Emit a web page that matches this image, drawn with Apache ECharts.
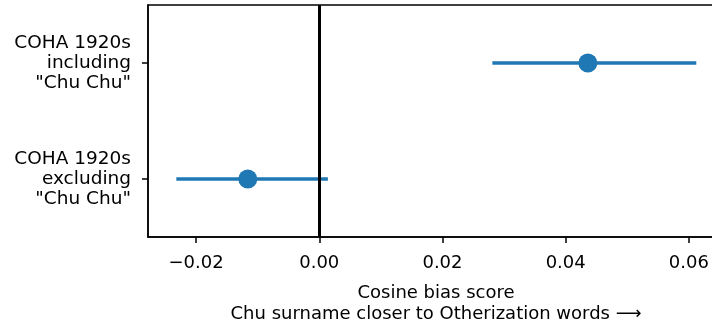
<!DOCTYPE html>
<html><head><meta charset="utf-8">
<script src="https://cdn.jsdelivr.net/npm/echarts@6/dist/echarts.min.js"></script>
<style>html,body{margin:0;padding:0;overflow:hidden;background:#fff}#c{width:740px;height:324px}</style>
</head><body><div id="c"></div>
<script>
const categories = ['COHA 1920s\nincluding\n"Chu Chu"', 'COHA 1920s\nexcluding\n"Chu Chu"'];
const means = [0.0436, -0.0116];
const lows = [0.0281, -0.0232];
const highs = [0.0612, 0.0014];
const xTicks = [-0.02, 0.00, 0.02, 0.04, 0.06];
const xName = 'Cosine bias score\nChu surname closer to Otherization words \u27F6';

const font = 'DejaVu Sans';
const chart = echarts.init(document.getElementById('c'), null, {renderer: 'canvas'});
chart.setOption({
  animation: false,
  grid: {left: 148, top: 5, width: 576, height: 232, show: true, borderColor: '#000', borderWidth: 1.5,
    backgroundColor: 'transparent', containLabel: false, outerBoundsMode: 'none'},
  xAxis: {
    type: 'value', min: -0.0278, max: 0.0657,
    splitLine: {show: false},
    axisLine: {show: true, onZero: false, lineStyle: {color: '#000', width: 1.5}},
    axisTick: {show: true, length: 6, lineStyle: {color: '#000', width: 1.5}, customValues: xTicks},
    axisLabel: {customValues: xTicks, color: '#000', fontFamily: font, fontSize: 18, margin: 17,
      formatter: v => v.toFixed(2).replace('-', '\u2212')},
    name: xName, nameLocation: 'middle', nameGap: 46,
    nameTextStyle: {color: '#000', fontFamily: font, fontSize: 18, lineHeight: 21}
  },
  yAxis: {
    type: 'category', data: categories, inverse: true,
    axisLine: {show: true, onZero: false, lineStyle: {color: '#000', width: 1.5}},
    axisTick: {show: true, alignWithLabel: true, length: 6, lineStyle: {color: '#000', width: 1.5}},
    axisLabel: {color: '#000', fontFamily: font, fontSize: 18.5, lineHeight: 20.3, align: 'right', margin: 17, padding: [20, 0, 0, 0]},
    splitLine: {show: false}
  },
  series: [
    {
      type: 'custom',
      data: categories.map((c, i) => [lows[i], highs[i], i]),
      encode: {x: [0, 1], y: 2},
      renderItem: function (params, api) {
        const a = api.coord([api.value(0), api.value(2)]);
        const b = api.coord([api.value(1), api.value(2)]);
        return {type: 'line', shape: {x1: a[0], y1: a[1], x2: b[0], y2: b[1]},
          style: {stroke: '#1f77b4', lineWidth: 3.5}};
      },
      z: 2
    },
    {
      type: 'scatter',
      data: categories.map((c, i) => [means[i], i]),
      symbol: 'circle', symbolSize: 19,
      itemStyle: {color: '#1f77b4', opacity: 1},
      z: 3,
      markLine: {
        silent: true, symbol: ['none', 'none'], label: {show: false},
        lineStyle: {color: '#000', width: 3, type: 'solid'},
        data: [{xAxis: 0}], z: 4
      }
    }
  ]
});
</script></body></html>
